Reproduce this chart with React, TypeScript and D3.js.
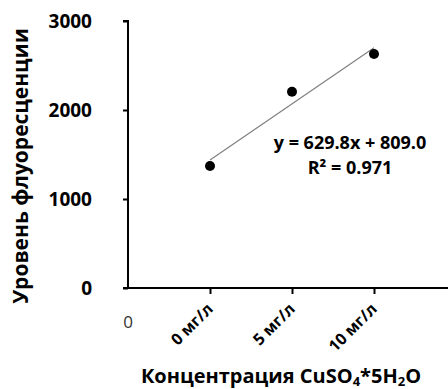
import React, { useEffect, useRef } from "react";
import * as d3 from "d3";

// categories on x axis (positions 1..3), value 0 is the origin
const categories = ["0 мг/л", "5 мг/л", "10 мг/л"];
const fluorescence = [1370, 2206, 2630];
const yTicks = [0, 1000, 2000, 3000];
const equationLines = ["y = 629.8x + 809.0", "R² = 0.971"];

const App = () => {
  const ref = useRef<SVGSVGElement>(null);

  useEffect(() => {
    const width = 448,
      height = 389;
    const svg = d3.select(ref.current);
    svg.selectAll("*").remove();

    const font = "'Open Sans', sans-serif";

    const x = d3.scaleLinear().domain([0, 4]).range([128, 456]);
    const y = d3.scaleLinear().domain([0, 3000]).range([288, 21]);

    // y axis
    const yAxis = svg.append("g").attr("transform", `translate(${x(0)},0)`);
    yAxis
      .call(d3.axisLeft(y).tickValues(yTicks).tickSize(5).tickPadding(31).tickFormat(d3.format("d")))
      .call((g) => g.select(".domain").attr("stroke-width", 2).attr("d", `M-5,${y(3000)}H0V${y(0)}`));
    yAxis.selectAll(".tick line").attr("stroke-width", 2);
    yAxis
      .selectAll(".tick text")
      .attr("font-family", font)
      .attr("font-weight", "bold")
      .attr("font-size", 19)
      .attr("fill", "#000");

    // x axis (line + ticks only, labels drawn below)
    const xAxis = svg.append("g").attr("transform", `translate(0,${y(0)})`);
    xAxis
      .call(d3.axisBottom(x).tickValues([1, 2, 3]).tickSize(6).tickFormat(() => ""))
      .call((g) => g.select(".domain").attr("stroke-width", 2).attr("d", `M${x(0) - 5},0H${width}`));
    xAxis.selectAll(".tick line").attr("stroke-width", 2);

    // rotated category labels, -45deg as a matrix
    const c = Math.SQRT1_2;
    svg
      .selectAll("text.cat")
      .data(categories)
      .enter()
      .append("text")
      .attr("class", "cat")
      .attr("transform", (_, i) => `matrix(${c},${-c},${c},${c},${x(i + 1) + 4},${y(0) + 22})`)
      .attr("text-anchor", "end")
      .attr("font-family", font)
      .attr("font-weight", "bold")
      .attr("font-size", 16)
      .attr("fill", "#000")
      .text((d) => d);

    // stray "0" label at origin
    svg
      .append("text")
      .attr("x", x(0))
      .attr("y", 328)
      .attr("text-anchor", "middle")
      .attr("font-family", font)
      .attr("font-size", 17)
      .attr("fill", "#333")
      .text("0");

    // linear trend line (least squares)
    const xs = fluorescence.map((_, i) => i + 1);
    const mx = d3.mean(xs)!;
    const my = d3.mean(fluorescence)!;
    const slope =
      d3.sum(xs, (xi, i) => (xi - mx) * (fluorescence[i] - my)) / d3.sum(xs, (xi) => (xi - mx) ** 2);
    const intercept = my - slope * mx;
    const trend = d3
      .line<number>()
      .x((d) => x(d))
      .y((d) => y(slope * d + intercept));
    svg
      .append("path")
      .attr("d", trend([1, 3]))
      .attr("stroke", "#808080")
      .attr("stroke-width", 1.2)
      .attr("fill", "none");

    // points
    svg
      .selectAll("circle.pt")
      .data(fluorescence)
      .enter()
      .append("circle")
      .attr("class", "pt")
      .attr("cx", (_, i) => x(i + 1))
      .attr("cy", (d) => y(d))
      .attr("r", 5)
      .attr("fill", "#000");

    // equation
    svg
      .selectAll("text.eq")
      .data(equationLines)
      .enter()
      .append("text")
      .attr("class", "eq")
      .attr("x", 350)
      .attr("y", (_, i) => 149 + i * 25)
      .attr("text-anchor", "middle")
      .attr("font-family", font)
      .attr("font-weight", "bold")
      .attr("font-size", 18)
      .text((d) => d);

    // y title
    svg
      .append("text")
      .attr("transform", `translate(28,166) rotate(-90)`)
      .attr("text-anchor", "middle")
      .attr("font-family", font)
      .attr("font-weight", "bold")
      .attr("font-size", 21)
      .text("Уровень флуоресценции");

    // x title with subscripts
    const xt = svg
      .append("text")
      .attr("x", 281)
      .attr("y", 383)
      .attr("text-anchor", "middle")
      .attr("font-family", font)
      .attr("font-weight", "bold")
      .attr("font-size", 20);
    xt.append("tspan").text("Концентрация CuSO");
    xt.append("tspan").attr("font-size", 13).attr("dy", 3).text("4");
    xt.append("tspan").attr("dy", -3).text("*5H");
    xt.append("tspan").attr("font-size", 13).attr("dy", 3).text("2");
    xt.append("tspan").attr("dy", -3).text("O");

    svg.attr("width", width).attr("height", height);
  }, []);

  return (
    <svg
      ref={ref}
      width={448}
      height={389}
      style={{ position: "absolute", left: 0, top: 0, background: "#fff" }}
    />
  );
};

export default App;
